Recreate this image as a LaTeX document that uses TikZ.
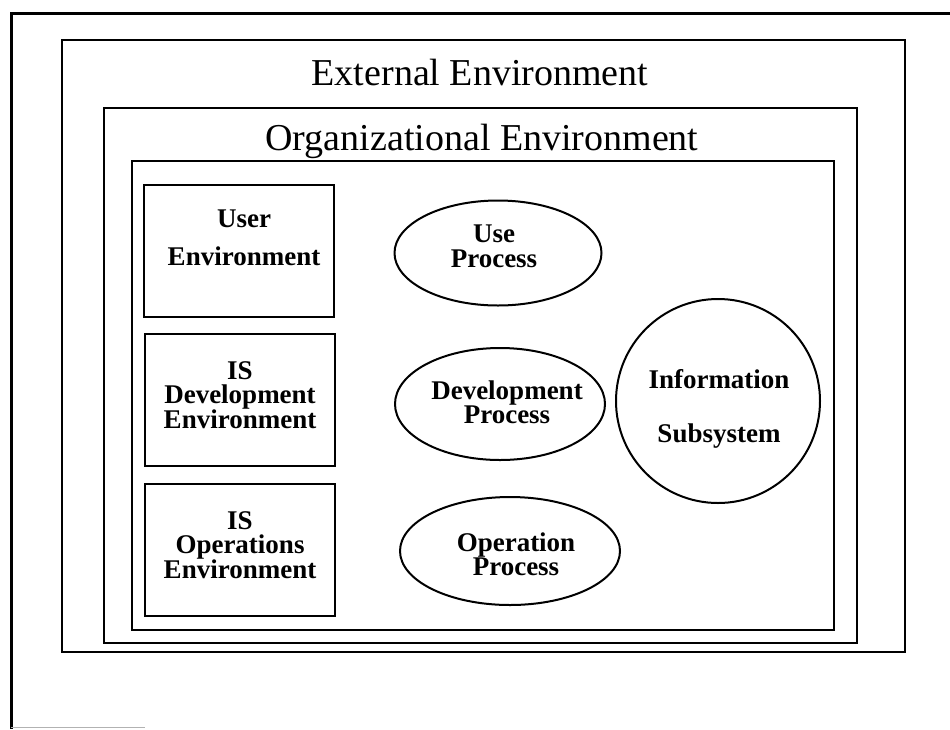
\documentclass[tikz,border=0pt]{standalone}
\usepackage{fontspec}
\setmainfont{Liberation Serif}
\usetikzlibrary{shapes.geometric}

\begin{document}
\begin{tikzpicture}[x=1pt, y=-1pt,
    frame/.style={draw, line width=2pt},
    envbox/.style={draw, line width=2pt, minimum width=190pt, minimum height=132pt, inner sep=0pt},
    proc/.style={draw, ellipse, line width=2pt, inner sep=0pt},
    title/.style={font=\fontsize{38}{40}\selectfont},
    lbl/.style={align=center, font=\bfseries\fontsize{27}{24.5}\selectfont}]
    \useasboundingbox (0,0) rectangle (950,729);

    % outer page frame (open at right and bottom)
    \draw[line width=3pt] (950,13) -- (11,13) -- (11,729);
    \draw[gray!60, line width=1.5pt] (11,727.5) -- (145,727.5);

    % nested environments
    \draw[frame] (62,40) rectangle (905,652);
    \draw[frame] (104,108) rectangle (857,643);
    \draw[frame] (132,161) rectangle (834,630);
    \node[title, anchor=base] (ext) at (480,85) {External Environment};
    \node[title, anchor=base] (org) at (482,150) {Organizational Environment};

    % environments on the left
    \node[envbox] (user) at (239,250.5) {};
    \node[envbox] (isdev) at (240,400) {};
    \node[envbox] (isops) at (240,550) {};
    \node[lbl, font=\bfseries\fontsize{27}{38}\selectfont] (userlbl) at (244,238) {User\\Environment};
    \node[lbl] (isdevlbl) at (240,395) {IS\\Development\\Environment};
    \node[lbl] (isopslbl) at (240,545) {IS\\Operations\\Environment};

    % processes
    \node[proc, minimum width=207pt, minimum height=105pt] (use) at (498,253) {};
    \node[proc, minimum width=210pt, minimum height=112pt] (dev) at (500,404) {};
    \node[proc, minimum width=220pt, minimum height=108pt] (ops) at (510,551) {};
    \node[lbl] (uselbl) at (494,246.5) {Use\\Process};
    \node[lbl, font=\bfseries\fontsize{27}{22}\selectfont] (devlbl) at (507,402.5) {Development\\Process};
    \node[lbl, font=\bfseries\fontsize{27}{21}\selectfont] (opslbl) at (516,554.5) {Operation\\Process};

    % subsystem
    \node[draw, circle, line width=2pt, minimum size=204pt, inner sep=0pt] (infosys) at (718,401) {};
    \node[lbl, font=\bfseries\fontsize{27}{54}\selectfont] (infolbl) at (719,409) {Information\\Subsystem};
\end{tikzpicture}
\end{document}
